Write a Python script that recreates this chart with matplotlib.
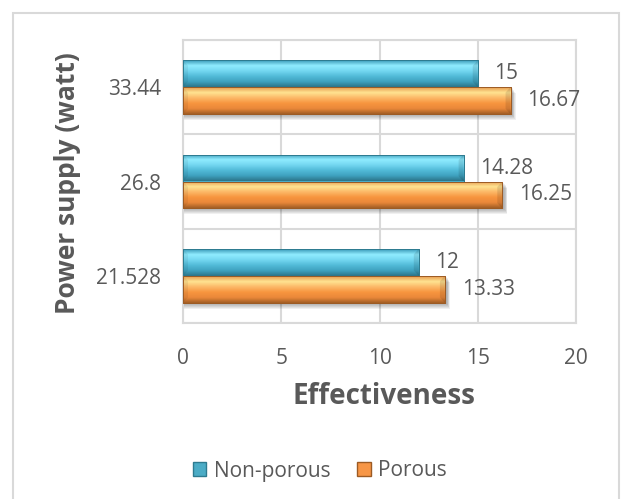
import numpy as np
import matplotlib
matplotlib.use("Agg")
import matplotlib.pyplot as plt
from matplotlib.patches import Rectangle
from matplotlib.colors import to_rgb

# Data
power_supply = ["21.528", "26.8", "33.44"]
non_porous = [12, 14.28, 15]
porous = [13.33, 16.25, 16.67]
series_names = ["Non-porous", "Porous"]

TEXT = "#595959"
GRID = "#D9D9D9"
FONT = "Open Sans"

W, H = 621, 499
fig = plt.figure(figsize=(W / 100, H / 100), dpi=100)
fig.patch.set_facecolor("white")

# outer chart border
fig.add_artist(Rectangle((13 / W, -0.01), (619 - 13) / W, (H - 13) / H + 0.01,
                         transform=fig.transFigure, fill=False,
                         edgecolor=GRID, linewidth=1.5))

ax = fig.add_axes([183 / W, 1 - 323 / H, (576 - 183) / W, (323 - 40) / H])

y = np.arange(len(power_supply))
bh = 0.285

blue_stops = ["#3A9AB8", "#90ECFF", "#74D7F1", "#52BBD8", "#3FA2C0", "#2C7589"]
orange_stops = ["#E79A4E", "#FFE391", "#FCB867", "#F7953F", "#EA883A", "#A35F25"]


def gradient_img(stops, n=64):
    cols = np.array([to_rgb(c) for c in stops])
    pos = np.linspace(0, 1, len(cols))
    t = np.linspace(0, 1, n)
    img = np.stack([np.interp(t, pos, cols[:, k]) for k in range(3)], axis=-1)
    return img[:, None, :]


bars_np = ax.barh(y + bh / 2, non_porous, height=bh, color="#4BACC6",
                  edgecolor="#2E7B90", linewidth=0.6, zorder=3,
                  label=series_names[0])
bars_p = ax.barh(y - bh / 2, porous, height=bh, color="#F79646",
                 edgecolor="#9C5B24", linewidth=0.6, zorder=3,
                 label=series_names[1])

px_x = 20 / (576 - 183)
px_y = 1 / ((323 - 40) / 3)

# soft drop shadow below the lower bar of each pair
for b in bars_p:
    x0, y0, w, h = b.get_x(), b.get_y(), b.get_width(), b.get_height()
    for k in range(6):
        ax.add_patch(Rectangle((x0 + 1 * px_x, y0 - (1 + k) * px_y),
                               w + (1 + 0.6 * k) * px_x, h,
                               facecolor="black", edgecolor="none",
                               alpha=0.06, zorder=2))

# gradient fill clipped to each bar
for bars, stops in ((bars_np, blue_stops), (bars_p, orange_stops)):
    img = gradient_img(stops)
    for b in bars:
        x0, y0, w, h = b.get_x(), b.get_y(), b.get_width(), b.get_height()
        im = ax.imshow(img, extent=[x0, x0 + w, y0, y0 + h], origin="upper",
                       aspect="auto", interpolation="bilinear", zorder=3.5)
        im.set_clip_path(b)
        # bevelled end caps
        cap = 5 * px_x
        ax.fill([x0 + w - cap, x0 + w, x0 + w, x0 + w - cap],
                [y0 + h * 0.2, y0, y0 + h, y0 + h * 0.8],
                color="black", alpha=0.10, zorder=3.6, linewidth=0)
        ax.fill([x0, x0 + cap, x0 + cap, x0],
                [y0, y0 + h * 0.2, y0 + h * 0.8, y0 + h],
                color="black", alpha=0.06, zorder=3.6, linewidth=0)
        ax.add_patch(Rectangle((x0, y0), w, h, fill=False,
                               edgecolor=b.get_edgecolor(), linewidth=0.7,
                               zorder=3.7))

# value labels
for bars, vals in ((bars_np, non_porous), (bars_p, porous)):
    for b, v in zip(bars, vals):
        ax.annotate(f"{v:g}", (b.get_width(), b.get_y() + b.get_height() / 2),
                    xytext=(12, 0), textcoords="offset points",
                    ha="left", va="center", fontsize=15, color=TEXT,
                    family=FONT, zorder=5)

ax.set_xlim(0, 20)
ax.set_ylim(-0.5, len(power_supply) - 0.5)
ax.set_xticks([0, 5, 10, 15, 20])
ax.set_yticks(y)
ax.set_yticklabels(power_supply)
ax.set_yticks(np.arange(-0.5, len(power_supply), 1.0), minor=True)
ax.tick_params(axis="both", which="both", length=0, labelsize=15,
               labelcolor=TEXT)
ax.tick_params(axis="x", pad=18)
ax.tick_params(axis="y", pad=16)
for lab in ax.get_xticklabels() + ax.get_yticklabels():
    lab.set_family(FONT)

ax.grid(axis="x", which="major", color=GRID, linewidth=1.5, zorder=0)
ax.grid(axis="y", which="minor", color=GRID, linewidth=1.5, zorder=0)
ax.grid(axis="y", which="major", visible=False)
for s in ax.spines.values():
    s.set_color(GRID)
    s.set_linewidth(1.5)
ax.set_axisbelow(True)

fig.text(68 / W, 1 - 183 / H, "Power supply (watt)", rotation=90,
         ha="center", va="center", fontsize=19, fontweight="bold",
         color=TEXT, family=FONT)
fig.text(384 / W, 1 - 397 / H, "Effectiveness", ha="center", va="center",
         fontsize=20, fontweight="bold", color=TEXT, family=FONT)

handles = [Rectangle((0, 0), 1, 1, facecolor="#4BACC6", edgecolor="#2E7B90"),
           Rectangle((0, 0), 1, 1, facecolor="#F79646", edgecolor="#9C5B24")]
leg = fig.legend(handles, series_names, loc="center",
                 bbox_to_anchor=(320 / W, 1 - 471 / H), ncol=2, frameon=False,
                 handlelength=0.65, handleheight=0.65, handletextpad=0.35,
                 columnspacing=1.3, prop={"family": FONT, "size": 15})
for t in leg.get_texts():
    t.set_color(TEXT)

fig.savefig("out.png", dpi=100)
